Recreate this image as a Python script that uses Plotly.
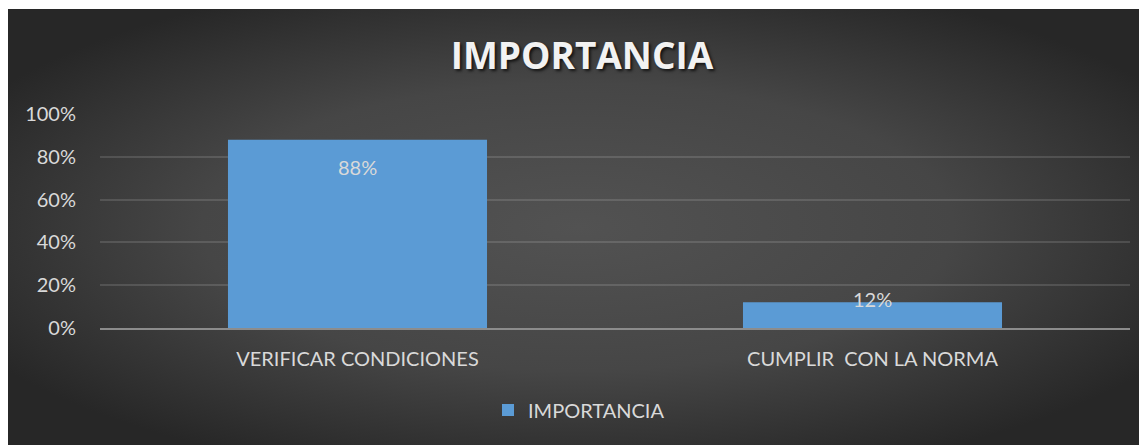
import base64
import plotly.graph_objects as go

categories = ["VERIFICAR CONDICIONES", "CUMPLIR  CON LA NORMA"]
values = [0.88, 0.12]
labels = ["88%", "12%"]
series_name = "IMPORTANCIA"
tick_vals = [0, 0.2, 0.4, 0.6, 0.8, 1.0]
tick_text = ["0%", "20%", "40%", "60%", "80%", "100%"]

OFF = 8  # page body margin
W, H = 1147 - OFF, 445 - OFF
# plot area in reference pixels: x 100..1130, y 114..328
L, T = 100 - OFF, 114 - OFF
R, B = W - (1130 - OFF), H - (328 - OFF)
pw, ph = W - L - R, H - T - B

svg = (
    '<svg xmlns="http://www.w3.org/2000/svg" width="1141" height="436" viewBox="0 0 1141 436" preserveAspectRatio="none">'
    '<defs><radialGradient id="g" cx="50%" cy="50%" r="60%" gradientUnits="objectBoundingBox">'
    '<stop offset="0" stop-color="#525252"/><stop offset="0.55" stop-color="#464646"/>'
    '<stop offset="1" stop-color="#272727"/></radialGradient></defs>'
    '<rect width="1141" height="436" fill="url(#g)"/></svg>'
)
src = "data:image/svg+xml;base64," + base64.b64encode(svg.encode()).decode()

FONT = "Lato, Calibri, sans-serif"
TXT = "#d9d9d9"
FS = 20

fig = go.Figure()
fig.add_trace(go.Bar(
    x=categories, y=values, name=series_name,
    marker=dict(color="#5b9bd5", line=dict(width=0)),
    showlegend=True,
))

for c, v, t in zip(categories, values, labels):
    fig.add_annotation(
        x=c, y=v, text=t, showarrow=False, yanchor="top",
        yshift=-13 if v > 0.3 else 17,
        font=dict(family=FONT, size=FS, color=TXT),
    )

# dark background panel: reference x 6..1147, y 9..445
px0 = max(6 - OFF, 0)
py0 = max(9 - OFF, 0)
fig.add_layout_image(
    source=src, xref="paper", yref="paper",
    x=(px0 - L) / pw, y=(H - B - py0) / ph,
    sizex=(W - px0) / pw, sizey=(H - py0) / ph,
    xanchor="left", yanchor="top", sizing="stretch", layer="below",
)

fig.update_layout(
    width=W, height=H,
    margin=dict(l=L, r=R, t=T, b=B, autoexpand=False),
    paper_bgcolor="white",
    plot_bgcolor="rgba(0,0,0,0)",
    bargap=0.497,
    title=dict(
        text="<b>IMPORTANCIA</b>", x=(582 - OFF) / W, xref="container", xanchor="center",
        y=1 - (56 - OFF) / H, yref="container", yanchor="middle",
        font=dict(family="Open Sans, sans-serif", size=37, color="#f2f2f2",
                  shadow="2px 2px 3px rgba(0,0,0,0.7)"),
    ),
    font=dict(family=FONT, color=TXT, size=FS),
    legend=dict(
        orientation="h", x=(579 - OFF - L) / pw, xanchor="center",
        y=(H - B - (410 - OFF)) / ph, yanchor="middle",
        font=dict(family=FONT, size=FS, color=TXT),
        bgcolor="rgba(0,0,0,0)",
    ),
    xaxis=dict(
        showgrid=False, showline=True, linecolor="#8c8c8c", linewidth=2,
        ticks="", ticklabelstandoff=12,
        tickfont=dict(family=FONT, size=FS, color=TXT),
    ),
    yaxis=dict(
        range=[0, 1], tickvals=tick_vals, ticktext=tick_text,
        showgrid=True, gridcolor="rgba(255,255,255,0.13)", gridwidth=1.5,
        zeroline=False, showline=False, ticks="", ticklabelstandoff=23,
        tickfont=dict(family=FONT, size=FS, color=TXT),
    ),
)

fig.write_html("out.html")
